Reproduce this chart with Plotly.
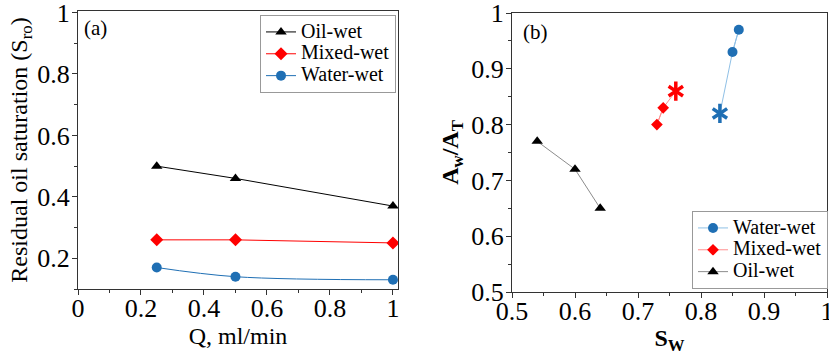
import plotly.graph_objects as go

# ---- Data: panel (a) ----
Q = [0.25, 0.5, 1.0]
oil_sro = [0.50, 0.46, 0.37]
mixed_sro = [0.26, 0.26, 0.25]
water_sro = [0.17, 0.14, 0.13]

# ---- Data: panel (b) ----
water_sw = [0.85, 0.86]
water_aw = [0.93, 0.97]
water_star_sw = [0.83]
water_star_aw = [0.82]

mixed_sw = [0.73, 0.74]
mixed_aw = [0.80, 0.83]
mixed_star_sw = [0.76]
mixed_star_aw = [0.86]

oil_sw = [0.54, 0.60, 0.64]
oil_aw = [0.77, 0.72, 0.65]

names = ["Oil-wet", "Mixed-wet", "Water-wet"]

W, H = 829, 355
FONT = "Liberation Serif"
BLUE = "#1f6fb4"
RED = "#ff0000"
BLACK = "#000000"

def px_x(p):
    return p / W

def px_y(p):
    return (H - p) / H

def lname(s):
    return '<span style="font-size:20px">' + s + '</span>'

fig = go.Figure()

# Panel (a)
fig.add_trace(go.Scatter(x=Q, y=oil_sro, mode="lines+markers", name=lname(names[0]),
                         line=dict(color=BLACK, width=1),
                         marker=dict(symbol="triangle-up", size=10, color=BLACK),
                         xaxis="x", yaxis="y", legend="legend"))
fig.add_trace(go.Scatter(x=Q, y=mixed_sro, mode="lines+markers", name=lname(names[1]),
                         line=dict(color=RED, width=1),
                         marker=dict(symbol="diamond", size=10, color=RED),
                         xaxis="x", yaxis="y", legend="legend"))
fig.add_trace(go.Scatter(x=Q, y=water_sro, mode="lines+markers", name=lname(names[2]),
                         line=dict(color=BLUE, width=1, shape="spline"),
                         marker=dict(symbol="circle", size=10, color=BLUE),
                         xaxis="x", yaxis="y", legend="legend"))

# Panel (b)
LBLUE = "#8fc0e6"
LRED = "#ff9090"
GRAY = "#8c8c8c"

def add_star(xs, ys, color):
    for sym in ("y-up-open", "y-down-open"):
        fig.add_trace(go.Scatter(x=xs, y=ys, mode="markers", showlegend=False,
                                 marker=dict(symbol=sym, size=12, color=color,
                                             line=dict(color=color, width=3.5)),
                                 xaxis="x2", yaxis="y2"))

fig.add_trace(go.Scatter(x=water_star_sw + water_sw, y=water_star_aw + water_aw, mode="lines",
                         line=dict(color=LBLUE, width=1), showlegend=False,
                         xaxis="x2", yaxis="y2"))
fig.add_trace(go.Scatter(x=water_sw, y=water_aw, mode="lines+markers", name=lname(names[2]),
                         line=dict(color=LBLUE, width=1),
                         marker=dict(symbol="circle", size=10, color=BLUE),
                         xaxis="x2", yaxis="y2", legend="legend2"))
add_star(water_star_sw, water_star_aw, BLUE)

fig.add_trace(go.Scatter(x=mixed_sw + mixed_star_sw, y=mixed_aw + mixed_star_aw, mode="lines",
                         line=dict(color=LRED, width=1), showlegend=False,
                         xaxis="x2", yaxis="y2"))
fig.add_trace(go.Scatter(x=mixed_sw, y=mixed_aw, mode="lines+markers", name=lname(names[1]),
                         line=dict(color=LRED, width=1),
                         marker=dict(symbol="diamond", size=9, color=RED),
                         xaxis="x2", yaxis="y2", legend="legend2"))
add_star(mixed_star_sw, mixed_star_aw, RED)

fig.add_trace(go.Scatter(x=oil_sw, y=oil_aw, mode="lines+markers", name=lname(names[0]),
                         line=dict(color=GRAY, width=1),
                         marker=dict(symbol="triangle-up", size=10, color=BLACK),
                         xaxis="x2", yaxis="y2", legend="legend2"))

axis_common = dict(showline=True, linecolor="#333", linewidth=1, mirror=True,
                   ticks="outside", ticklen=5, tickcolor="#333", showgrid=False,
                   zeroline=False, automargin=False, ticklabeloverflow="allow",
                   tickfont=dict(family=FONT, size=26, color="black"))

fig.update_layout(
    width=W, height=H,
    margin=dict(l=0, r=0, t=0, b=0, autoexpand=False),
    paper_bgcolor="white", plot_bgcolor="white",
    font=dict(family=FONT, color="black"),
    xaxis=dict(domain=[px_x(78), px_x(398)], range=[0, 1.016], dtick=0.2, tick0=0,
               minor=dict(dtick=0.1, ticks="outside", ticklen=3, tickcolor="#333"),
               anchor="y", ticklabelstandoff=-9,
               title=dict(text="Q, ml/min", font=dict(family=FONT, size=24), standoff=4),
               **axis_common),
    yaxis=dict(domain=[px_y(289), px_y(11)], range=[0.1, 1.005], dtick=0.2, tick0=0,
               minor=dict(dtick=0.1, ticks="outside", ticklen=3, tickcolor="#333"),
               anchor="x", ticklabelstandoff=-3,
               title=dict(text="Residual oil saturation (S<sub>ro</sub>)",
                          font=dict(family=FONT, size=24), standoff=2),
               **axis_common),
    xaxis2=dict(domain=[px_x(512), px_x(827)], range=[0.5, 1.0], dtick=0.1, tick0=0.5,
                minor=dict(dtick=0.05, ticks="outside", ticklen=3, tickcolor="#333"),
                anchor="y2", ticklabelstandoff=-9,
                title=dict(text="<b>S<sub>W</sub></b>", font=dict(family=FONT, size=24), standoff=0),
                **axis_common),
    yaxis2=dict(domain=[px_y(292), px_y(13)], range=[0.5, 1.0], dtick=0.1, tick0=0.5,
                minor=dict(dtick=0.05, ticks="outside", ticklen=3, tickcolor="#333"),
                anchor="x2", ticklabelstandoff=-3,
                title=dict(text="<b>A<sub>w</sub>/A<sub>T</sub></b>",
                           font=dict(family=FONT, size=24), standoff=5),
                **axis_common),
    legend=dict(x=px_x(396), y=px_y(15), xanchor="right", yanchor="top",
                bgcolor="white", bordercolor="#999", borderwidth=1,
                font=dict(family=FONT, size=14.5), tracegroupgap=0,
                itemwidth=30),
    legend2=dict(x=px_x(828), y=px_y(289), xanchor="right", yanchor="bottom",
                 bgcolor="white", bordercolor="#999", borderwidth=1,
                 font=dict(family=FONT, size=14.5), tracegroupgap=0,
                 itemwidth=30),
    annotations=[
        dict(text="(a)", x=px_x(82), y=px_y(28), xref="paper", yref="paper",
             xanchor="left", yanchor="middle", showarrow=False,
             font=dict(family=FONT, size=21)),
        dict(text="(b)", x=px_x(521), y=px_y(32), xref="paper", yref="paper",
             xanchor="left", yanchor="middle", showarrow=False,
             font=dict(family=FONT, size=21)),
    ],
)

fig.write_html("out.html", config={"displayModeBar": False},
               post_script="document.body.style.margin='0';document.body.style.padding='0';")
